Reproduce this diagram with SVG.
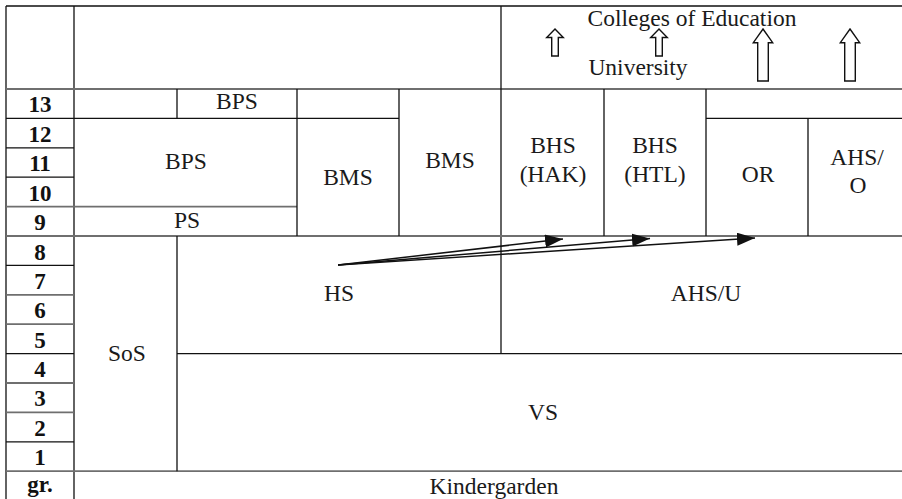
<svg xmlns="http://www.w3.org/2000/svg" width="902" height="499" viewBox="0 0 902 499">
<style>
.t{font-family:"Liberation Serif","Times New Roman",serif;font-size:23.5px;fill:#1a1a1a;text-anchor:middle}
.n{font-family:"Liberation Serif","Times New Roman",serif;font-size:23px;font-weight:bold;fill:#111;text-anchor:middle}
.k{stroke:#111;stroke-width:1.3;fill:none}
.g{stroke:#6f6f6f;stroke-width:1.8;fill:none}
.ba{fill:#fff;stroke:#111;stroke-width:1.4;stroke-linejoin:miter}
.c{stroke:#111;stroke-width:1.5;fill:none}
</style>
<defs>
<marker id="ah" markerUnits="userSpaceOnUse" markerWidth="20" markerHeight="14" refX="18" refY="6.5" orient="auto">
<path d="M0,0 L18,6.5 L0,13 Z" fill="#111"/>
</marker>
</defs>
<rect width="902" height="499" fill="#fff"/>
<g id="grid">
<path class="k" d="M6,6 H902 M6,6 V499 M74,6 V499"/>
<path class="g" d="M6,89 H902"/>
<path class="k" d="M501,6 V354"/>
<path class="k" d="M6,118.4 H399 M706,118.4 H902"/>
<path class="k" d="M6,147.8 H74 M6,177.2 H74"/>
<path class="g" d="M6,206.6 H297"/>
<path class="g" d="M6,236 H902"/>
<path class="k" d="M6,265.4 H74"/>
<path class="g" d="M6,294.8 H74 M6,324.2 H74"/>
<path class="k" d="M6,353.6 H74 M177,353.6 H902"/>
<path class="g" d="M6,383 H74 M6,412.4 H74"/>
<path class="k" d="M6,441.8 H74"/>
<path class="g" d="M6,471.2 H902"/>
<path class="k" d="M177,89 V118.4 M177,236 V471.2"/>
<path class="k" d="M297,89 V236 M399,89 V236 M604,89 V236 M706,89 V236 M808,118.4 V236"/>
</g>
<g id="grades">
<text class="n" x="40" y="112">13</text>
<text class="n" x="40" y="142">12</text>
<text class="n" x="40" y="171">11</text>
<text class="n" x="40" y="201">10</text>
<text class="n" x="40" y="230">9</text>
<text class="n" x="40" y="260">8</text>
<text class="n" x="40" y="289">7</text>
<text class="n" x="40" y="318">6</text>
<text class="n" x="40" y="348">5</text>
<text class="n" x="40" y="377">4</text>
<text class="n" x="40" y="406">3</text>
<text class="n" x="40" y="436">2</text>
<text class="n" x="40" y="465">1</text>
<text class="n" x="40" y="492">gr.</text>
</g>
<g id="higher">
<text class="t" x="692" y="26">Colleges of Education</text>
<text class="t" x="638" y="75">University</text>
<path class="ba" d="M555,29 L563.3,37.5 L558.3,37.5 L558.3,56 L551.7,56 L551.7,37.5 L546.7,37.5 Z"/>
<path class="ba" d="M659,29 L667.3,37.5 L662.3,37.5 L662.3,56 L655.7,56 L655.7,37.5 L650.7,37.5 Z"/>
<path class="ba" d="M763,29 L772.7,42.7 L768.3,42.7 L768.3,81 L757.7,81 L757.7,42.7 L753.3,42.7 Z"/>
<path class="ba" d="M850,29 L859.7,42.7 L855.3,42.7 L855.3,81 L844.7,81 L844.7,42.7 L840.3,42.7 Z"/>
</g>
<g id="bps13"><text class="t" x="237" y="109">BPS</text></g>
<g id="bps"><text class="t" x="186" y="169">BPS</text></g>
<g id="ps"><text class="t" x="187" y="228">PS</text></g>
<g id="bms1"><text class="t" x="348" y="185">BMS</text></g>
<g id="bms2"><text class="t" x="450" y="168">BMS</text></g>
<g id="bhs-hak"><text class="t" x="553" y="153">BHS</text><text class="t" x="553" y="182">(HAK)</text></g>
<g id="bhs-htl"><text class="t" x="655" y="153">BHS</text><text class="t" x="655" y="182">(HTL)</text></g>
<g id="or"><text class="t" x="758" y="182">OR</text></g>
<g id="ahs-o"><text class="t" x="857" y="165">AHS/</text><text class="t" x="858" y="193">O</text></g>
<g id="hs"><text class="t" x="339" y="301">HS</text></g>
<g id="ahs-u"><text class="t" x="706" y="301">AHS/U</text></g>
<g id="sos"><text class="t" x="127" y="361">SoS</text></g>
<g id="vs"><text class="t" x="543" y="420">VS</text></g>
<g id="kg"><text class="t" x="494" y="494">Kindergarden</text></g>
<g id="connectors">
<path class="c" d="M338,265 L563,239" marker-end="url(#ah)"/>
<path class="c" d="M338,265 L650,238.5" marker-end="url(#ah)"/>
<path class="c" d="M338,265 L755,238" marker-end="url(#ah)"/>
</g>
</svg>
